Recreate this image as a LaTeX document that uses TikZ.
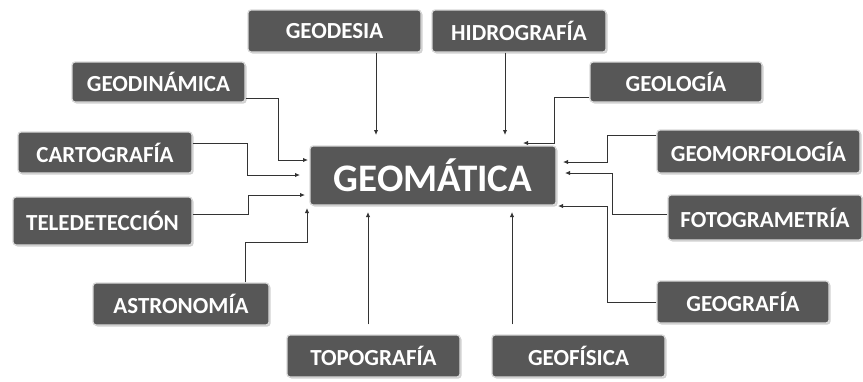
\documentclass[tikz,border=0pt]{standalone}
\usepackage{fontspec}
\setmainfont{Carlito}
\usetikzlibrary{arrows.meta,shadows}
\definecolor{boxgray}{HTML}{575757}
\definecolor{linegray}{HTML}{333333}
\tikzset{
  box/.style={rectangle, rounded corners=3pt, fill=boxgray, draw=gray!30, line width=1.3pt,
    text=white, font=\bfseries\fontsize{23}{26}\selectfont, inner sep=0pt,
    drop shadow={shadow xshift=1.5pt, shadow yshift=-1.5pt, fill=gray!45, opacity=0.8}},
  bigbox/.style={box, font=\bfseries\fontsize{39}{42}\selectfont},
  conn/.style={draw=linegray, line width=1pt, -{Latex[length=5pt,width=4.5pt]}},
}
\begin{document}
\begin{tikzpicture}[x=1pt,y=-1pt]
\useasboundingbox (0,0) rectangle (863,381);
% nodes
\node[box, minimum width=173, minimum height=42] (geodesia) at (334.5,31) {GEODESIA};
\node[box, minimum width=174, minimum height=42] (hidro) at (519,31) {HIDROGRAFÍA};
\node[box, minimum width=173, minimum height=40] (geodin) at (158.5,82) {GEODINÁMICA};
\node[box, minimum width=172, minimum height=40] (geologia) at (676,82) {GEOLOGÍA};
\node[box, minimum width=174, minimum height=41] (carto) at (105,152.5) {CARTOGRAFÍA};
\node[box, minimum width=203, minimum height=43] (geomorf) at (758.5,151.5) {GEOMORFOLOGÍA};
\node[bigbox, minimum width=246, minimum height=59] (geomatica) at (433,175.5) {GEOMÁTICA};
\node[box, minimum width=179, minimum height=48] (telede) at (102.5,221) {TELEDETECCIÓN};
\node[box, minimum width=194, minimum height=45] (fotogr) at (765,217.5) {FOTOGRAMETRÍA};
\node[box, minimum width=176, minimum height=42] (astro) at (181,304) {ASTRONOMÍA};
\node[box, minimum width=172, minimum height=42] (geogra) at (743,302) {GEOGRAFÍA};
\node[box, minimum width=173, minimum height=42] (topo) at (373.5,356) {TOPOGRAFÍA};
\node[box, minimum width=173, minimum height=42] (geofis) at (578.5,356) {GEOFÍSICA};
% arrow tips near the central box
\coordinate (tGeodesia) at (376,135);
\coordinate (tHidro) at (505,135);
\coordinate (tGeodin) at (308,160);
\coordinate (tCarto) at (300,175);
\coordinate (tTelede) at (305,195);
\coordinate (tAstro) at (307,208);
\coordinate (tGeologia) at (523,143);
\coordinate (tGeomorf) at (563,162);
\coordinate (tFotogr) at (565,173);
\coordinate (tGeogra) at (558,206);
\coordinate (tTopo) at (368,212);
\coordinate (tGeofis) at (512,212);
% connectors
\draw[conn] (geodesia.south -| tGeodesia) -- (tGeodesia);
\draw[conn] (hidro.south -| tHidro) -- (tHidro);
\draw[conn] ([yshift=-16pt]geodin.east) -- ++(33,0) |- (tGeodin);
\draw[conn] ([yshift=9pt]carto.east) -- ++(55,0) |- (tCarto);
\draw[conn] ([yshift=7pt]telede.east) -- ++(56,0) |- (tTelede);
\draw[conn] (astro.north -| 245,0) -- ++(0,-40) -| (tAstro);
\draw[conn] ([yshift=-15pt]geologia.west) -- ++(-35,0) |- (tGeologia);
\draw[conn] ([yshift=16.5pt]geomorf.west) -- ++(-49,0) |- (tGeomorf);
\draw[conn] ([yshift=3.5pt]fotogr.west) -- ++(-55,0) |- (tFotogr);
\draw[conn] (geogra.west) -- ++(-49,0) |- (tGeogra);
\draw[conn] (topo.north -| tTopo) ++(0,-10) -- (tTopo);
\draw[conn] (geofis.north -| tGeofis) ++(0,-10) -- (tGeofis);
\end{tikzpicture}
\end{document}
